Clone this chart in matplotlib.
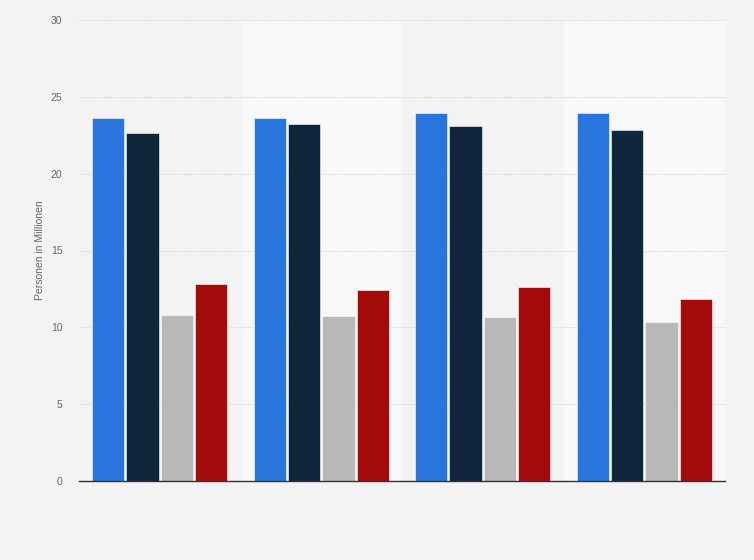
import numpy as np
import matplotlib.pyplot as plt

# data (Personen in Millionen), 4 groups x 4 series
groups = ['1', '2', '3', '4']
series_blue = [23.6, 23.6, 23.95, 23.95]
series_navy = [22.65, 23.2, 23.1, 22.85]
series_gray = [10.8, 10.75, 10.65, 10.35]
series_red = [12.85, 12.45, 12.65, 11.85]
colors = ['#2876dd', '#10263d', '#b8b8b8', '#a30a0a']
yticks = [0, 5, 10, 15, 20, 25, 30]

plt.rcParams['font.family'] = ['Liberation Sans', 'DejaVu Sans']

fig = plt.figure(figsize=(7.54, 5.6), dpi=100, facecolor='#f3f3f3')
ax = fig.add_axes([79/754, 1 - 481/560, (725 - 79)/754, (481 - 20)/560])
ax.set_facecolor('#f3f3f3')

x = np.arange(len(groups))
# alternating background bands
for i in x:
    if i % 2 == 1:
        ax.axvspan(i - 0.5, i + 0.5, color='#f8f8f8', zorder=0, lw=0)

w = 0.2
step = 0.213
all_series = [series_blue, series_navy, series_gray, series_red]
for k, vals in enumerate(all_series):
    ax.bar(x + (k - 1.5) * step, vals, width=w, color=colors[k],
           edgecolor='white', linewidth=0.4, zorder=3)

ax.set_xlim(-0.5, len(groups) - 0.5)
ax.set_ylim(0, 30)
ax.set_yticks(yticks)
ax.set_yticklabels([str(t) for t in yticks], fontsize=7.5, color='#666666')
ax.set_xticks([])
ax.yaxis.grid(True, color='#d6d6d6', linestyle=(0, (1, 1)), linewidth=0.8, zorder=1)
ax.tick_params(axis='y', length=0, pad=12)
for s in ['top', 'right', 'left']:
    ax.spines[s].set_visible(False)
ax.spines['bottom'].set_color('#333333')
ax.spines['bottom'].set_linewidth(1.0)
ax.spines['bottom'].set_zorder(4)

ax.set_ylabel('Personen in Millionen', fontsize=7.5, color='#666666', labelpad=4)

fig.savefig('out.png', dpi=100, facecolor=fig.get_facecolor())
